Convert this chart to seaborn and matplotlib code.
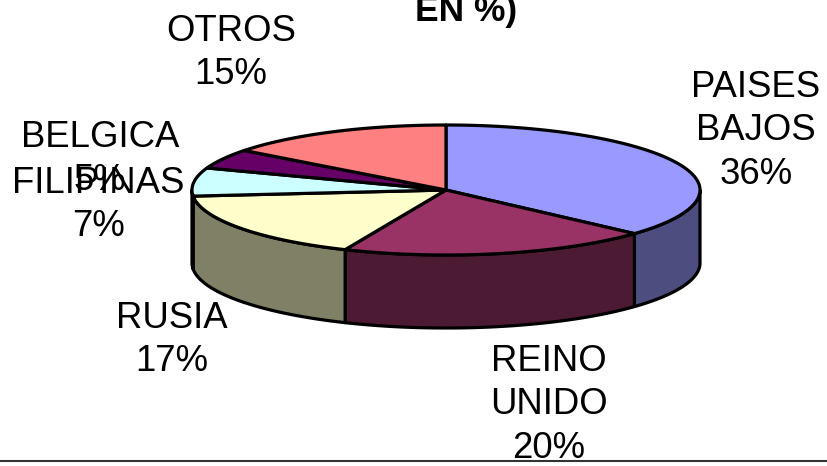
import numpy as np
import matplotlib
matplotlib.use("Agg")
import matplotlib.pyplot as plt
from matplotlib.patches import Polygon, Rectangle
import seaborn as sns

categories = ["PAISES\nBAJOS", "REINO\nUNIDO", "RUSIA", "FILIPINAS", "BELGICA", "OTROS"]
percent_labels = ["36%", "20%", "17%", "7%", "5%", "15%"]
values = [36.7, 19.8, 17.0, 7.0, 4.9, 14.6]
top_colors = ["#9999FF", "#993366", "#FFFFCC", "#CCFFFF", "#660066", "#FF8080"]
title_text = "EN %)"

# label anchors (pixels)
label_x = [756, 549, 172, 98, 100, 231]
label_y = [131, 405, 340, 205, 159, 53]

sns.set_theme(style="white")
plt.rcParams["font.family"] = ["Liberation Sans", "DejaVu Sans"]
palette = sns.color_palette(top_colors)
side_colors = [tuple(c * 0.5 for c in col) for col in palette]

CX, CY, RX, RY, DEPTH = 446, 190, 254, 65, 73
EDGE = 2.3

fig = plt.figure(figsize=(8.27, 4.66), dpi=100)
ax = fig.add_axes([0, 0, 1, 1])
ax.set_xlim(0, 827)
ax.set_ylim(466, 0)
ax.axis("off")


def rim(a, dy=0):
    """Point on the ellipse; angle in radians clockwise from the top."""
    a = np.asarray(a)
    return np.column_stack([CX + RX * np.sin(a), CY + dy - RY * np.cos(a)])


fractions = np.array(values) / np.sum(values)
edges = np.concatenate([[0], np.cumsum(fractions)]) * 2 * np.pi

# side wall: only the front half of the rim shows
for i in range(len(values)):
    a0, a1 = max(edges[i], np.pi / 2), min(edges[i + 1], 3 * np.pi / 2)
    if a1 <= a0:
        continue
    arc = np.linspace(a0, a1, 120)
    poly = np.vstack([rim(arc), rim(arc[::-1], DEPTH)])
    ax.add_patch(Polygon(poly, closed=True, facecolor=side_colors[i],
                         edgecolor="black", linewidth=EDGE, joinstyle="round", zorder=2))

# top face
for i in range(len(values)):
    arc = np.linspace(edges[i], edges[i + 1], 200)
    poly = np.vstack([[CX, CY], rim(arc)])
    ax.add_patch(Polygon(poly, closed=True, facecolor=palette[i],
                         edgecolor="black", linewidth=EDGE, joinstyle="round", zorder=3))

# labels
for name, pct, x, y in zip(categories, percent_labels, label_x, label_y):
    ax.text(x, y, f"{name}\n{pct}", ha="center", va="center", fontsize=26.3,
            color="black", linespacing=1.33, zorder=4)

ax.text(466.5, 21, title_text, ha="center", va="baseline", fontsize=25.5,
        fontweight="bold", color="black", zorder=4)

# rule along the bottom, hiding what runs past it
ax.add_patch(Rectangle((0, 461), 827, 5, facecolor="white", edgecolor="none", zorder=5))
ax.axhline(461, color="#333333", linewidth=1.5, zorder=6)

fig.savefig("out.png", dpi=100)
